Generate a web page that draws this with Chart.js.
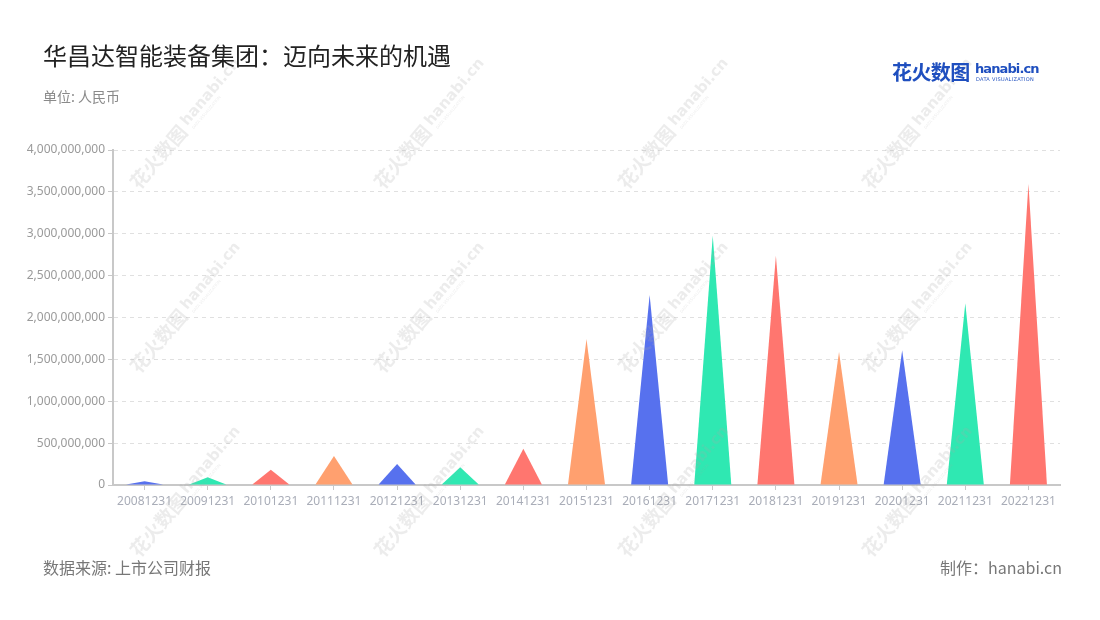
<!DOCTYPE html>
<html><head><meta charset="utf-8">
<script src="https://cdn.jsdelivr.net/npm/chart.js@4"></script>
<style>
html,body{margin:0;padding:0;background:#fff;}
#wrap{position:relative;width:1100px;height:620px;font-family:"Noto Sans CJK SC","Noto Sans",sans-serif;}
#c{position:absolute;left:0;top:0;}
.t{position:absolute;white-space:nowrap;}
</style></head><body>
<div id="wrap">
<canvas id="c" width="1100" height="620"></canvas>
<div class="t" style="left:43px;top:37px;font-size:24px;color:#222;">华昌达智能装备集团：迈向未来的机遇</div>
<div class="t" style="left:43px;top:86px;font-size:14px;color:#8a8a8a;">单位: 人民币</div>
<div class="t" style="left:892px;top:57px;font-size:20px;font-weight:bold;color:#1f4fbf;letter-spacing:-0.6px;">花火数图</div>
<div class="t" style="left:975px;top:61px;font-size:13px;font-weight:bold;color:#1f4fbf;font-family:'DejaVu Sans';letter-spacing:-0.9px;">hanabi.cn</div>
<div class="t" style="left:976px;top:76px;font-size:5px;color:#1f4fbf;font-family:'DejaVu Sans';letter-spacing:0.3px;">DATA VISUALIZATION</div>
<div class="t" style="left:43px;top:555px;font-size:16px;color:#777;">数据来源: 上市公司财报</div>
<div class="t" style="right:38px;top:555px;font-size:16px;color:#777;">制作：hanabi.cn</div>
</div>
<script>
const categories = ["20081231","20091231","20101231","20111231","20121231","20131231","20141231","20151231","20161231","20171231","20181231","20191231","20201231","20211231","20221231"];
const values = [44000000,92000000,183000000,346000000,251000000,211000000,434000000,1743000000,2269000000,2977000000,2738000000,1588000000,1608000000,2169000000,3598000000];
const palette = ["#5771EE","#2FE8B2","#FF766F","#FFA06F"];
const yTickMax = 4000000000;
const yTickStep = 500000000;

const triPlugin = {
  id:'tri',
  afterDatasetsDraw(chart){
    const ctx = chart.ctx;
    const meta = chart.getDatasetMeta(0);
    meta.data.forEach((el,i)=>{
      const p = el.getProps(['x','y','base','width'],true);
      ctx.save();
      ctx.fillStyle = palette[i % palette.length];
      ctx.beginPath();
      ctx.moveTo(p.x - p.width/2, p.base);
      ctx.lineTo(p.x, p.y);
      ctx.lineTo(p.x + p.width/2, p.base);
      ctx.closePath();
      ctx.fill();
      ctx.restore();
    });
  }
};

const wmPlugin = {
  id:'wm',
  afterDraw(chart){
    const ctx = chart.ctx;
    const cols = [183,427,671,915];
    const rows = [128,312,496];
    ctx.save();
    ctx.fillStyle = 'rgba(170,170,170,0.22)';
    rows.forEach(cy=>cols.forEach(cx=>{
      ctx.save();
      ctx.translate(cx,cy);
      ctx.rotate(-Math.PI/4 - 0.08);
      ctx.textBaseline='middle';
      ctx.font = 'bold 19px "Noto Sans CJK SC"';
      ctx.fillText('花火数图',-76,0);
      ctx.font = 'bold 15px "DejaVu Sans"';
      ctx.fillText('hanabi.cn',4,-2);
      ctx.font = '4px "DejaVu Sans"';
      ctx.fillText('DATA VISUALIZATION',6,8);
      ctx.restore();
    }));
    ctx.restore();
  }
};

new Chart(document.getElementById('c'),{
  type:'bar',
  data:{labels:categories,datasets:[{data:values,backgroundColor:'rgba(0,0,0,0)',borderWidth:0,barThickness:37}]},
  options:{
    responsive:false,animation:false,
    layout:{padding:{left:0,right:40,top:150,bottom:0}},
    plugins:{legend:{display:false},tooltip:{enabled:false}},
    scales:{
      x:{
        grid:{display:true,drawOnChartArea:false,offset:false,tickLength:5,tickColor:'#c8c8c8'},
        border:{color:'#c8c8c8',width:2},
        ticks:{color:'#a9adb8',font:{size:12,family:'"Noto Sans","Noto Sans CJK SC",sans-serif'},maxRotation:0,autoSkip:false,padding:4},
        afterFit(s){s.height=135;}
      },
      y:{
        min:0,max:yTickMax,
        grid:{color:'#e0e0e0',tickBorderDash:[],tickColor:'#c8c8c8',tickLength:5,drawTicks:true},
        border:{color:'#c8c8c8',width:2,dash:[4,4]},
        ticks:{stepSize:yTickStep,color:'#9a9a9a',font:{size:12,family:'"Noto Sans",sans-serif'},padding:3,
          callback:v=>Number(v).toLocaleString('en-US')},
        afterFit(s){s.width=113;}
      }
    }
  },
  plugins:[triPlugin,wmPlugin]
});
</script>
</body></html>
